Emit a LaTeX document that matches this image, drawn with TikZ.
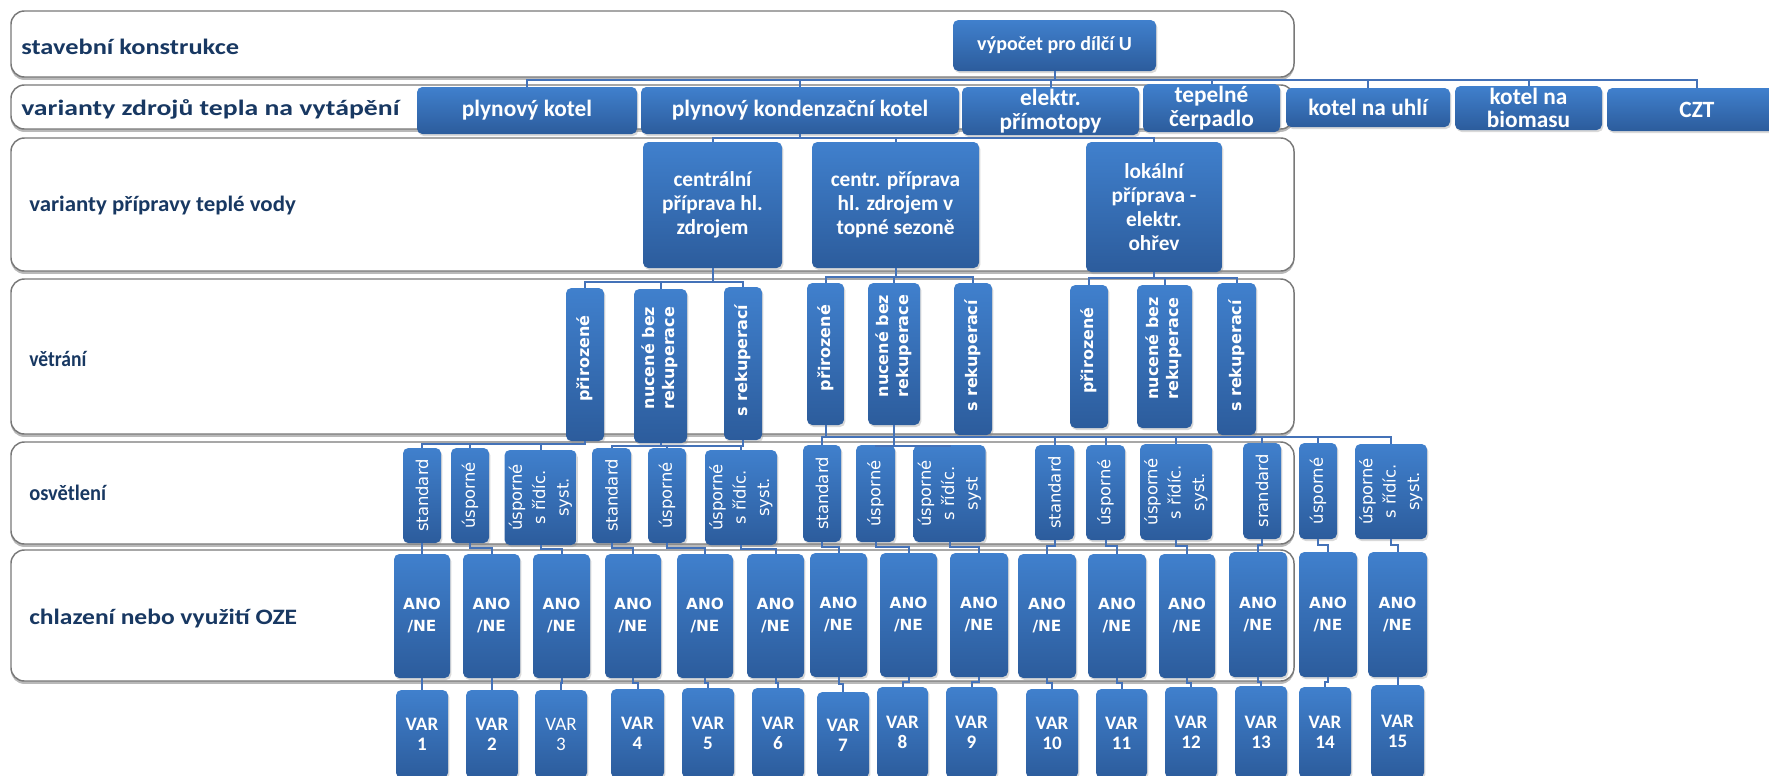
\documentclass[tikz,border=0pt]{standalone}
\usepackage{fontspec}
\setmainfont{Carlito}
\newfontfamily\wideface{DejaVu Sans}
\usetikzlibrary{shadows}

\definecolor{boxtop}{RGB}{64,128,205}
\definecolor{boxbot}{RGB}{44,92,156}
\definecolor{linkblue}{RGB}{68,114,184}
\definecolor{labelnavy}{RGB}{24,56,98}
\definecolor{bandgray}{RGB}{120,120,120}

\newlength\pxunit
\setlength\pxunit{0.75pt}

\begin{document}
\begin{tikzpicture}[x=0.75pt,y=0.75pt,yscale=-1,xscale=1,
  wh/.style 2 args={minimum width=#1*0.75pt, minimum height=#2*0.75pt},
  band/.style={draw=bandgray, line width=1.1pt, fill=white, rounded corners=10pt, inner sep=0pt,
    drop shadow={opacity=0.55, shadow xshift=0pt, shadow yshift=-2.2pt}},
  rowlabel/.style={anchor=west, inner sep=0.75pt, text=labelnavy, font=\fontsize{16.5}{18}\selectfont\bfseries},
  bluebox/.style={rounded corners=4pt, top color=boxtop, bottom color=boxbot, draw=none, text=white,
    align=center, inner sep=0.75pt, font=\fontsize{15}{17.5}\selectfont\bfseries,
    drop shadow={opacity=0.3, shadow xshift=1pt, shadow yshift=-1.5pt}},
  srcbox/.style={bluebox, font=\fontsize{17.5}{17.5}\selectfont\bfseries},
  tvbox/.style={bluebox, font=\fontsize{16}{18}\selectfont\bfseries},
  ventbox/.style={bluebox, font=\wideface\fontsize{12}{15}\selectfont\bfseries},
  lightbox/.style={bluebox, font=\wideface\fontsize{12.3}{17.5}\selectfont},
  anobox/.style={bluebox, font=\wideface\fontsize{11.5}{16.5}\selectfont\bfseries},
  varbox/.style={bluebox, font=\fontsize{14.3}{15}\selectfont\bfseries},
  conn/.style={draw=linkblue, line width=1.5pt}]
\useasboundingbox (0,0) rectangle (1769,775);
\clip (0,0) rectangle (1769,775);

%Shape: Rounded Rect [rows]
\node[band, wh={1283}{66}] (rowU) at (652.5,44) {};
\node[band, wh={1283}{44}] (rowZdroj) at (652.5,107) {};
\node[band, wh={1283}{133}] (rowTV) at (652.5,204.5) {};
\node[band, wh={1283}{155}] (rowVetr) at (652.5,356.5) {};
\node[band, wh={1283}{102}] (rowOsv) at (652.5,493) {};
\node[band, wh={1283}{131}] (rowChl) at (652.5,615.5) {};

% Text Node
\node[rowlabel] (labU) at (20,47) {\scalebox{1.2}[1]{stavební konstrukce}};
% Text Node
\node[rowlabel] (labZdroj) at (20,109) {\scalebox{1.26}[1]{varianty zdrojů tepla na vytápění}};
% Text Node
\node[rowlabel] (labTV) at (28,206) {\scalebox{1.04}[1]{varianty přípravy teplé vody}};
% Text Node
\node[rowlabel] (labVetr) at (28,359) {\scalebox{0.89}[1]{větrání}};
% Text Node
\node[rowlabel] (labOsv) at (28,493) {\scalebox{0.93}[1]{osvětlení}};
% Text Node
\node[rowlabel] (labChl) at (28,618) {\scalebox{1.16}[1]{chlazení nebo využití OZE}};

%Shape: Rounded Rect [top]
\node[bluebox, wh={203}{51}] (zU) at (1054.5,45.5) {výpočet pro dílčí U};

%Shape: Rounded Rect [heat sources]
\node[srcbox, wh={220}{47}] (zk1) at (527,110.5) {plynový kotel};
\node[srcbox, wh={318}{47}] (zk2) at (800,110.5) {plynový kondenzační kotel};
\node[srcbox, wh={177}{48}] (zk3) at (1050.5,111) {elektr.\\přímotopy};
\node[srcbox, wh={137}{48}] (zk4) at (1211.5,108) {tepelné\\čerpadlo};
\node[srcbox, wh={164}{39}] (zk5) at (1368,107.5) {kotel na uhlí};
\node[srcbox, wh={147}{44}] (zk6) at (1528.5,108) {kotel na\\biomasu};
\node[srcbox, wh={180}{43}] (zk7) at (1697,109.5) {CZT};

%Shape: Rounded Rect [hot water]
\node[tvbox, wh={139}{126}] (tv1) at (712.5,205) {centrální\\příprava hl.\\zdrojem};
\node[tvbox, wh={167}{126}] (tv2) at (895.5,205) {centr. příprava\\hl. zdrojem v\\topné sezoně};
\node[tvbox, wh={136}{130}] (tv3) at (1154,207) {lokální\\příprava -\\elektr.\\ohřev};

%Shape: Rounded Rect [ventilation]
\node[ventbox, wh={38}{153}] (ve1) at (585,364.5) {\rotatebox{90}{\hspace{12\pxunit}přirozené}};
\node[ventbox, wh={53}{154}] (ve2) at (660.5,366) {\rotatebox{90}{\hspace{16\pxunit}\begin{tabular}{@{}c@{}}nucené bez\\rekuperace\end{tabular}}};
\node[ventbox, wh={38}{153}] (ve3) at (743,363.5) {\rotatebox{90}{\hspace{6\pxunit}s rekuperací}};
\node[ventbox, wh={37}{142}] (ve4) at (825.5,354) {\rotatebox{90}{\hspace{12\pxunit}přirozené}};
\node[ventbox, wh={52}{142}] (ve5) at (894,354) {\rotatebox{90}{\hspace{16\pxunit}\begin{tabular}{@{}c@{}}nucené bez\\rekuperace\end{tabular}}};
\node[ventbox, wh={38}{152}] (ve6) at (973,359) {\rotatebox{90}{\hspace{6\pxunit}s rekuperací}};
\node[ventbox, wh={38}{143}] (ve7) at (1089,356.5) {\rotatebox{90}{\hspace{12\pxunit}přirozené}};
\node[ventbox, wh={55}{143}] (ve8) at (1164.5,356.5) {\rotatebox{90}{\hspace{16\pxunit}\begin{tabular}{@{}c@{}}nucené bez\\rekuperace\end{tabular}}};
\node[ventbox, wh={39}{152}] (ve9) at (1236.5,359) {\rotatebox{90}{\hspace{6\pxunit}s rekuperací}};

%Shape: Rounded Rect [lighting]
\node[lightbox, wh={38}{95}] (os1) at (422,495.5) {\rotatebox{90}{standard}};
\node[lightbox, wh={38}{95}] (os2) at (470,495.5) {\rotatebox{90}{úsporné}};
\node[lightbox, wh={71}{95}] (os3) at (540.5,497.5) {\rotatebox{90}{\begin{tabular}{@{}c@{}}úsporné\\s řídíc.\\syst.\end{tabular}}};
\node[lightbox, wh={39}{95}] (os4) at (611.5,495.5) {\rotatebox{90}{standard}};
\node[lightbox, wh={38}{95}] (os5) at (667,495.5) {\rotatebox{90}{úsporné}};
\node[lightbox, wh={72}{95}] (os6) at (741,497.5) {\rotatebox{90}{\begin{tabular}{@{}c@{}}úsporné\\s řídíc.\\syst.\end{tabular}}};
\node[lightbox, wh={38}{97}] (os7) at (822,493.5) {\rotatebox{90}{standard}};
\node[lightbox, wh={39}{97}] (os8) at (875.5,493.5) {\rotatebox{90}{úsporné}};
\node[lightbox, wh={71}{97}] (os9) at (949.5,493.5) {\rotatebox{90}{\begin{tabular}{@{}c@{}}úsporné\\s řídíc.\\syst\end{tabular}}};
\node[lightbox, wh={39}{95}] (os10) at (1054.5,492.5) {\rotatebox{90}{standard}};
\node[lightbox, wh={39}{95}] (os11) at (1105.5,492.5) {\rotatebox{90}{úsporné}};
\node[lightbox, wh={72}{96}] (os12) at (1176,492) {\rotatebox{90}{\begin{tabular}{@{}c@{}}úsporné\\s řídíc.\\syst.\end{tabular}}};
\node[lightbox, wh={38}{96}] (os13) at (1262,491) {\rotatebox{90}{srandard}};
\node[lightbox, wh={38}{96}] (os14) at (1318,491) {\rotatebox{90}{úsporné}};
\node[lightbox, wh={72}{95}] (os15) at (1391,491.5) {\rotatebox{90}{\begin{tabular}{@{}c@{}}úsporné\\s řídíc.\\syst.\end{tabular}}};

%Shape: Rounded Rect [cooling]
\node[anobox, wh={56}{124}] (chl1) at (422,616) {ANO\\/NE};
\node[anobox, wh={57}{124}] (chl2) at (491.5,616) {ANO\\/NE};
\node[anobox, wh={57}{124}] (chl3) at (561.5,616) {ANO\\/NE};
\node[anobox, wh={56}{124}] (chl4) at (633,616) {ANO\\/NE};
\node[anobox, wh={56}{124}] (chl5) at (705,616) {ANO\\/NE};
\node[anobox, wh={57}{124}] (chl6) at (775.5,616) {ANO\\/NE};
\node[anobox, wh={57}{124}] (chl7) at (838.5,615) {ANO\\/NE};
\node[anobox, wh={57}{124}] (chl8) at (908.5,615) {ANO\\/NE};
\node[anobox, wh={58}{124}] (chl9) at (979,615) {ANO\\/NE};
\node[anobox, wh={58}{124}] (chl10) at (1047,616) {ANO\\/NE};
\node[anobox, wh={58}{124}] (chl11) at (1117,616) {ANO\\/NE};
\node[anobox, wh={56}{124}] (chl12) at (1187,616) {ANO\\/NE};
\node[anobox, wh={58}{125}] (chl13) at (1258,614.5) {ANO\\/NE};
\node[anobox, wh={58}{125}] (chl14) at (1328,614.5) {ANO\\/NE};
\node[anobox, wh={59}{125}] (chl15) at (1397.5,614.5) {ANO\\/NE};

%Shape: Rounded Rect [variants]
\node[varbox, wh={52}{88}] (var1) at (422,734) {VAR\\1};
\node[varbox, wh={52}{88}] (var2) at (492,734) {VAR\\2};
\node[varbox, wh={52}{88}, font=\fontsize{14.3}{15}\selectfont] (var3) at (561,734) {VAR\\3};
\node[varbox, wh={53}{89}] (var4) at (637.5,733.5) {VAR\\4};
\node[varbox, wh={52}{90}] (var5) at (708,733) {VAR\\5};
\node[varbox, wh={52}{90}] (var6) at (778,733) {VAR\\6};
\node[varbox, wh={52}{86}] (var7) at (843,735) {VAR\\7};
\node[varbox, wh={51}{91}] (var8) at (902.5,732.5) {VAR\\8};
\node[varbox, wh={51}{91}] (var9) at (971.5,732.5) {VAR\\9};
\node[varbox, wh={52}{89}] (var10) at (1052,733.5) {VAR\\10};
\node[varbox, wh={51}{89}] (var11) at (1121.5,733.5) {VAR\\11};
\node[varbox, wh={52}{91}] (var12) at (1191,732.5) {VAR\\12};
\node[varbox, wh={52}{92}] (var13) at (1261,732) {VAR\\13};
\node[varbox, wh={52}{91}] (var14) at (1325,732.5) {VAR\\14};
\node[varbox, wh={53}{93}] (var15) at (1397.5,731.5) {VAR\\15};

%Straight Lines [U to heat sources]
\draw[conn] (zU.south) |- (zk1.north |- 0,80) -- (zk1.north);
\draw[conn] (zU.south) |- (zk2.north |- 0,80) -- (zk2.north);
\draw[conn] (zU.south) |- (zk3.north |- 0,80) -- (zk3.north);
\draw[conn] (zU.south) |- (zk4.north |- 0,80) -- (zk4.north);
\draw[conn] (zU.south) |- (zk5.north |- 0,80) -- (zk5.north);
\draw[conn] (zU.south) |- (zk6.north |- 0,80) -- (zk6.north);
\draw[conn] (zU.south) |- (zk7.north |- 0,80) -- (zk7.north);
%Straight Lines [heat source to hot water]
\draw[conn] (zk2.south) |- (tv1.north |- 0,138) -- (tv1.north);
\draw[conn] (zk2.south) |- (tv2.north |- 0,138) -- (tv2.north);
\draw[conn] (zk2.south) |- (tv3.north |- 0,138) -- (tv3.north);
%Straight Lines [hot water to ventilation]
\draw[conn] (tv1.south) |- (ve1.north |- 0,282) -- (ve1.north);
\draw[conn] (tv1.south) |- (ve2.north |- 0,282) -- (ve2.north);
\draw[conn] (tv1.south) |- (ve3.north |- 0,282) -- (ve3.north);
\draw[conn] (tv2.south) |- (ve4.north |- 0,277) -- (ve4.north);
\draw[conn] (tv2.south) |- (ve5.north |- 0,277) -- (ve5.north);
\draw[conn] (tv2.south) |- (ve6.north |- 0,277) -- (ve6.north);
\draw[conn] (tv3.south) |- (ve7.north |- 0,278) -- (ve7.north);
\draw[conn] (tv3.south) |- (ve8.north |- 0,278) -- (ve8.north);
\draw[conn] (tv3.south) |- (ve9.north |- 0,278) -- (ve9.north);
%Straight Lines [ventilation to lighting]
\draw[conn] (ve1.south) |- (os1.north |- 0,444) -- (os1.north);
\draw[conn] (ve1.south) |- (os2.north |- 0,444) -- (os2.north);
\draw[conn] (ve1.south) |- (os3.north |- 0,444) -- (os3.north);
\draw[conn] (ve2.south) |- (os4.north |- 0,446) -- (os4.north);
\draw[conn] (ve2.south) |- (os5.north |- 0,446) -- (os5.north);
\draw[conn] (ve2.south) |- (os6.north |- 0,446) -- (os6.north);
\draw[conn] (ve3.south) |- (os6.north |- 0,446) -- (os6.north);
\draw[conn] (ve4.south) |- (os7.north |- 0,437) -- (os7.north);
\draw[conn] (ve4.south) |- (os10.north |- 0,437) -- (os10.north);
\draw[conn] (ve4.south) |- (os11.north |- 0,437) -- (os11.north);
\draw[conn] (ve4.south) |- (os12.north |- 0,437) -- (os12.north);
\draw[conn] (ve4.south) |- (os13.north |- 0,437) -- (os13.north);
\draw[conn] (ve4.south) |- (os14.north |- 0,437) -- (os14.north);
\draw[conn] (ve4.south) |- (os15.north |- 0,437) -- (os15.north);
\draw[conn] (ve5.south) |- (os8.north |- 0,446) -- (os8.north);
\draw[conn] (ve5.south) |- (os9.north |- 0,446) -- (os9.north);
%Straight Lines [lighting to cooling]
\draw[conn] (os1.south) -- ++(0,5) -| (chl1.north);
\draw[conn] (os2.south) -- ++(0,5) -| (chl2.north);
\draw[conn] (os3.south) -- ++(0,4) -| (chl3.north);
\draw[conn] (os4.south) -- ++(0,5) -| (chl4.north);
\draw[conn] (os5.south) -- ++(0,5) -| (chl5.north);
\draw[conn] (os6.south) -- ++(0,4) -| (chl6.north);
\draw[conn] (os7.south) -- ++(0,5) -| (chl7.north);
\draw[conn] (os8.south) -- ++(0,5) -| (chl8.north);
\draw[conn] (os9.south) -- ++(0,5) -| (chl9.north);
\draw[conn] (os10.south) -- ++(0,6) -| (chl10.north);
\draw[conn] (os11.south) -- ++(0,6) -| (chl11.north);
\draw[conn] (os12.south) -- ++(0,6) -| (chl12.north);
\draw[conn] (os13.south) -- ++(0,6) -| (chl13.north);
\draw[conn] (os14.south) -- ++(0,6) -| (chl14.north);
\draw[conn] (os15.south) -- ++(0,6) -| (chl15.north);
%Straight Lines [cooling to variants]
\draw[conn] (chl1.south) -- ++(0,5) -| (var1.north);
\draw[conn] (chl2.south) -- ++(0,5) -| (var2.north);
\draw[conn] (chl3.south) -- ++(0,5) -| (var3.north);
\draw[conn] (chl4.south) -- ++(0,5) -| (var4.north);
\draw[conn] (chl5.south) -- ++(0,5) -| (var5.north);
\draw[conn] (chl6.south) -- ++(0,5) -| (var6.north);
\draw[conn] (chl7.south) -- ++(0,7) -| (var7.north);
\draw[conn] (chl8.south) -- ++(0,5) -| (var8.north);
\draw[conn] (chl9.south) -- ++(0,5) -| (var9.north);
\draw[conn] (chl10.south) -- ++(0,5) -| (var10.north);
\draw[conn] (chl11.south) -- ++(0,5) -| (var11.north);
\draw[conn] (chl12.south) -- ++(0,5) -| (var12.north);
\draw[conn] (chl13.south) -- ++(0,5) -| (var13.north);
\draw[conn] (chl14.south) -- ++(0,5) -| (var14.north);
\draw[conn] (chl15.south) -- ++(0,4) -| (var15.north);

\end{tikzpicture}
\end{document}
